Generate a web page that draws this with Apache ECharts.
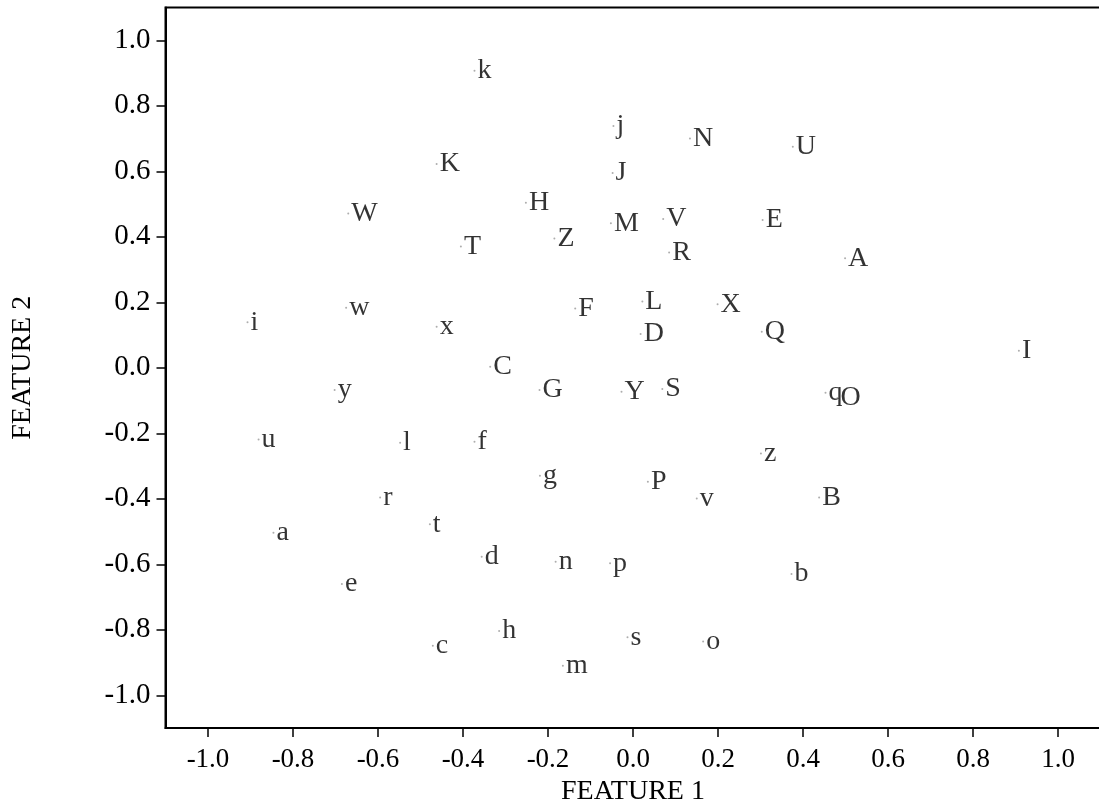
<!DOCTYPE html>
<html>
<head>
<meta charset="utf-8">
<script src="https://cdn.jsdelivr.net/npm/echarts@6/dist/echarts.min.js"></script>
<style>
html,body{margin:0;padding:0;background:#fff;}
#chart{width:1099px;height:804px;}
</style>
</head>
<body>
<div id="chart"></div>
<script>
var names = ['k','j','K','J','H','W','M','Z','T','N','U','V','E','R','A',
  'i','w','x','F','C','G','y','u','l','f','g','r','t','a',
  'L','X','D','Q','I','Y','S','q','O','z','P','v','B',
  'd','n','p','e','h','c','m','s','o','b'];
var xs = [-0.373,-0.046,-0.462,-0.048,-0.252,-0.670,-0.052,-0.185,-0.405,0.134,0.376,0.071,0.305,0.085,0.499,
  -0.907,-0.675,-0.462,-0.136,-0.336,-0.220,-0.702,-0.881,-0.548,-0.373,-0.219,-0.595,-0.478,-0.846,
  0.022,0.199,0.018,0.303,0.908,-0.027,0.069,0.453,0.481,0.301,0.035,0.150,0.438,
  -0.356,-0.182,-0.054,-0.685,-0.315,-0.471,-0.165,-0.013,0.165,0.373];
var ys = [0.907,0.738,0.622,0.595,0.504,0.471,0.441,0.395,0.370,0.700,0.675,0.454,0.451,0.352,0.334,
  0.139,0.183,0.125,0.181,0.003,-0.068,-0.068,-0.219,-0.229,-0.226,-0.330,-0.396,-0.478,-0.504,
  0.202,0.194,0.103,0.110,0.052,-0.073,-0.065,-0.076,-0.092,-0.262,-0.348,-0.399,-0.396,
  -0.577,-0.592,-0.597,-0.660,-0.804,-0.849,-0.910,-0.823,-0.836,-0.630];
var tickValues = [-1.0,-0.8,-0.6,-0.4,-0.2,0.0,0.2,0.4,0.6,0.8,1.0];
var xTitle = 'FEATURE 1';
var yTitle = 'FEATURE 2';

var points = names.map(function(n,i){ return [xs[i], ys[i], n]; });
var FONT = '"Liberation Serif","Times New Roman",serif';

function axisCommon(labelSize){
  return {
    type:'value', min:-1.1, max:1.1,
    splitLine:{show:false},
    axisLine:{show:true, onZero:false, lineStyle:{color:'#000', width:2}},
    axisTick:{show:true, inside:false, length:9, customValues:tickValues, lineStyle:{color:'#000', width:1.5}},
    axisLabel:{customValues:tickValues, color:'#000', fontFamily:FONT, fontSize:labelSize,
      formatter:function(v){ return Number(v).toFixed(1); }},
    nameLocation:'middle',
    nameTextStyle:{color:'#000', fontFamily:FONT, fontSize:28}
  };
}
var xa = axisCommon(27); xa.name = xTitle; xa.nameGap = 43; xa.axisLabel.margin = 18;
var ya = axisCommon(29); ya.name = yTitle; ya.nameGap = 129; ya.axisLabel.margin = 15;

var chart = echarts.init(document.getElementById('chart'), null, {renderer:'canvas'});
chart.setOption({
  animation:false,
  backgroundColor:'#fff',
  grid:{left:165.5, top:7.5, width:935, height:720.5, show:true, borderColor:'#000', borderWidth:2, containLabel:false, outerBoundsMode:'none'},
  xAxis:xa,
  yAxis:ya,
  series:[{
    type:'scatter',
    data:points,
    symbol:'circle',
    symbolSize:2,
    itemStyle:{color:'#999'},
    label:{show:true, position:'right', distance:2, color:'#000', fontFamily:FONT, fontSize:28,
      formatter:function(p){ return p.data[2]; }},
    emphasis:{disabled:true}
  }]
});
</script>
</body>
</html>
